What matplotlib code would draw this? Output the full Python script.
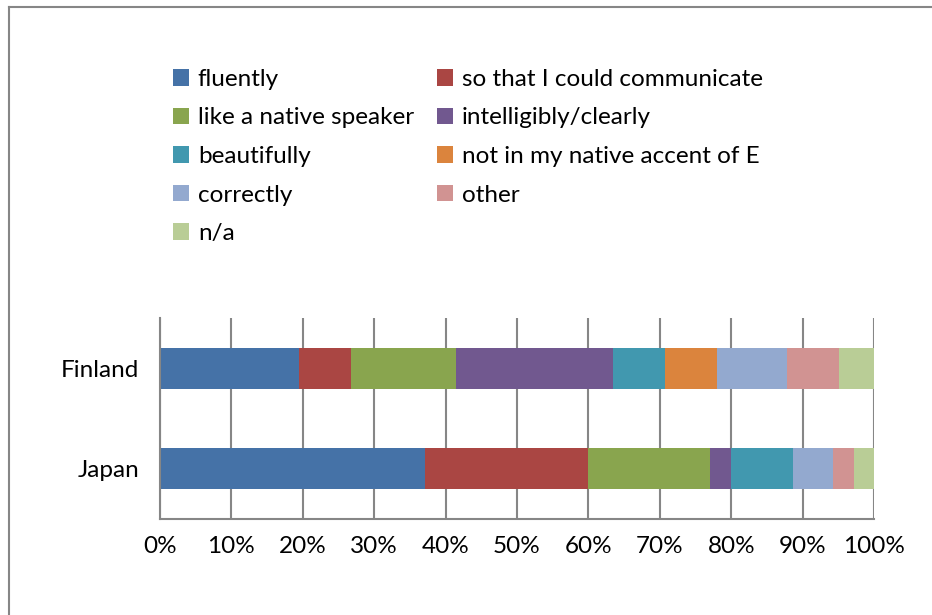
import numpy as np
import matplotlib
matplotlib.use("Agg")
import matplotlib.pyplot as plt
from matplotlib.lines import Line2D

plt.rcParams['font.family'] = ['Lato', 'DejaVu Sans']

countries = ["Japan", "Finland"]
series = ["fluently", "so that I could communicate", "like a native speaker",
          "intelligibly/clearly", "beautifully", "not in my native accent of E",
          "correctly", "other", "n/a"]
# share of answers in % (Japan, Finland)
fluently = [37.1, 19.5]
communicate = [22.9, 7.3]
native = [17.1, 14.6]
intelligibly = [2.9, 22.0]
beautifully = [8.6, 7.3]
not_accent = [0.0, 7.3]
correctly = [5.7, 9.8]
other = [2.9, 7.3]
na = [2.9, 4.9]
values = [fluently, communicate, native, intelligibly, beautifully,
          not_accent, correctly, other, na]
colors = ["#4572A7", "#AA4643", "#89A54E", "#71588F", "#4198AF",
          "#DB843D", "#93A9CF", "#D19392", "#B9CD96"]

W, H = 932, 615
fs = 17.5
fig = plt.figure(figsize=(W / 100, H / 100), dpi=100)
ax = fig.add_axes([160 / W, 1 - 519 / H, 714 / W, 201 / H])

y = np.arange(len(countries))
left = np.zeros(len(countries))
handles = []
for name, vals, c in zip(series, values, colors):
    vals = np.array(vals)
    b = ax.barh(y, vals, left=left, height=0.41, color=c, label=name)
    handles.append(b)
    left = left + vals

ax.set_xlim(0, 100)
ax.set_ylim(-0.5, 1.5)
ax.set_xticks(np.arange(0, 101, 10))
ax.set_xticklabels([f"{t}%" for t in range(0, 101, 10)])
ax.set_yticks(y)
ax.set_yticklabels(countries)
ax.xaxis.grid(True, color="#868686", linewidth=1.5)
ax.set_axisbelow(True)
for s in ["top", "right"]:
    ax.spines[s].set_visible(False)
for s in ["left", "bottom"]:
    ax.spines[s].set_color("#868686")
    ax.spines[s].set_linewidth(1.5)
ax.tick_params(axis="both", length=0, labelsize=fs, colors="black")
ax.tick_params(axis="y", pad=15)
ax.tick_params(axis="x", pad=12)

order = [0, 2, 4, 6, 8, 1, 3, 5, 7]
fig.legend([handles[i] for i in order], [series[i] for i in order],
           loc="upper left", bbox_to_anchor=(173 / W, 1 - 69 / H), ncol=2,
           frameon=False, fontsize=fs, handlelength=0.66, handleheight=0.66,
           handletextpad=0.36, labelspacing=0.72, columnspacing=0.95,
           borderpad=0, borderaxespad=0)

# chart border
fig.add_artist(Line2D([9 / W, 9 / W], [0, 1 - 7 / H], color="#868686", lw=1.5))
fig.add_artist(Line2D([9 / W, 1], [1 - 7 / H, 1 - 7 / H], color="#868686", lw=1.5))

fig.savefig("out.png", dpi=100)
